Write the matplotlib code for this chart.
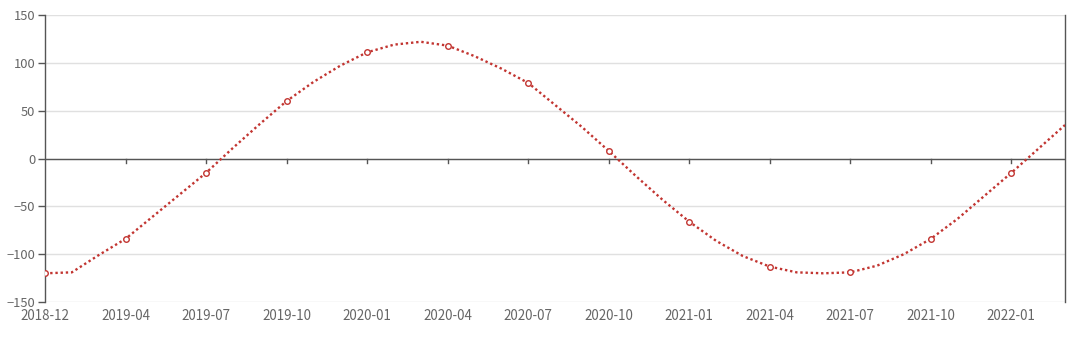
import matplotlib
matplotlib.use("Agg")
import matplotlib.pyplot as plt
import numpy as np

# category index positions; labels every 3rd category
tick_labels = ["2018-12", "2019-04", "2019-07", "2019-10", "2020-01", "2020-04",
               "2020-07", "2020-10", "2021-01", "2021-04", "2021-07", "2021-10", "2022-01"]
values = [-120, -119, -101, -84, -61, -38, -15, 11, 36, 60, 80, 97, 111,
          119, 122, 118, 107, 94, 79, 56, 33, 8, -18, -43, -66,
          -86, -102, -113, -119, -120, -119, -112, -100, -84,
          -63, -39, -15, 10, 35]
label_every = 3

plt.rcParams['font.family'] = ['Noto Sans CJK SC', 'DejaVu Sans']

W, H = 1080, 343
fig = plt.figure(figsize=(W / 100, H / 100), dpi=100)
ax = fig.add_axes([45 / W, 1 - 302 / H, (1065 - 45) / W, (302 - 15) / H])

x = np.arange(len(values))
red = "#c23531"
ax.plot(x, values, color=red, lw=1.7, linestyle=(0, (1, 1.2)), zorder=3)
mk = x[::label_every]
ax.plot(mk, np.array(values)[::label_every], linestyle="none", marker="o",
        ms=4, mfc="white", mec=red, mew=1, zorder=4)

ax.set_xlim(0, len(values) - 1)
ax.set_ylim(-150, 150)
ax.set_yticks(np.arange(-150, 151, 50))
ax.grid(axis="y", color="#e0e0e0", lw=1)
ax.set_axisbelow(True)

for s in ["top", "bottom"]:
    ax.spines[s].set_visible(False)
for s in ["left", "right"]:
    ax.spines[s].set_color("#555555")
    ax.spines[s].set_linewidth(1)

# zero axis line with ticks
ax.axhline(0, color="#555555", lw=1, zorder=2)
for t in mk[1:]:
    ax.plot([t, t], [0, -4.5], color="#555555", lw=1, zorder=2, clip_on=False)

ax.set_xticks(mk)
ax.set_xticklabels(tick_labels)
ax.tick_params(axis="x", length=0, pad=5, labelsize=9.6, colors="#666666")
ax.tick_params(axis="y", length=5, width=1, color="#555555", pad=2, labelsize=9.3,
               labelcolor="#666666")

fig.savefig("out.png", dpi=100, facecolor="white")
